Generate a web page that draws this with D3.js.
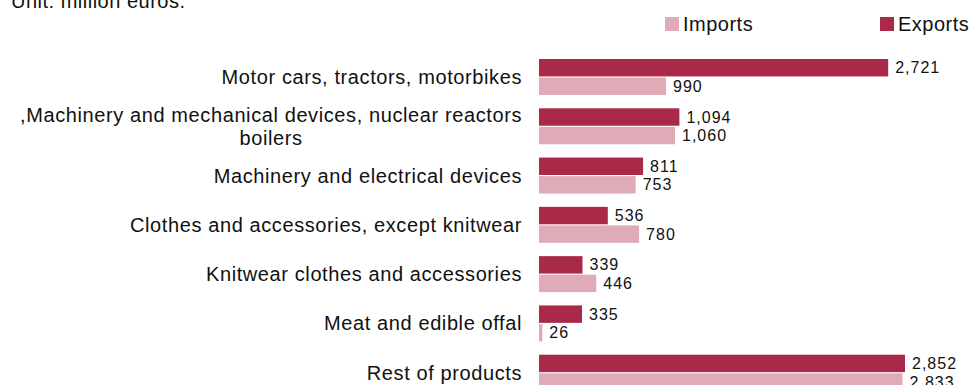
<!DOCTYPE html>
<html>
<head>
<meta charset="utf-8">
<script src="https://cdn.jsdelivr.net/npm/d3@7"></script>
<style>
  html, body { margin: 0; padding: 0; background: #fff; }
  svg { display: block; font-family: "Liberation Sans", Arial, sans-serif; }
</style>
</head>
<body>
<svg id="chart" width="971" height="385"></svg>
<script>
// Trade by product group, million euros
const categories = [
  ["Motor cars, tractors, motorbikes"],
  [",Machinery and mechanical devices, nuclear reactors", "boilers"],
  ["Machinery and electrical devices"],
  ["Clothes and accessories, except knitwear"],
  ["Knitwear clothes and accessories"],
  ["Meat and edible offal"],
  ["Rest of products"]
];
const exportsValues = [2721, 1094, 811, 536, 339, 335, 2852];
const importsValues = [990, 1060, 753, 780, 446, 26, 2833];
const seriesNames = ["Imports", "Exports"];
const colors = { Imports: "#dfabb6", Exports: "#a92a48" };

const svg = d3.select("#chart");
const fmt = d3.format(",");

const x = d3.scaleLinear().domain([0, 2852]).range([539, 905]);
const y = d3.scaleBand().domain(d3.range(categories.length))
  .range([52.35, 397.35]).paddingInner(0.27).paddingOuter(0.135);
const sub = d3.scaleBand().domain(["Exports", "Imports"])
  .range([0, y.bandwidth()]).paddingInner(0.06);

// Unit note (partly above the top edge)
svg.append("text").attr("x", 11).attr("y", 8)
  .attr("font-size", 20).attr("letter-spacing", 0.5).attr("fill", "#111")
  .text("Unit: million euros.");

// Legend
const legendX = { Imports: 665, Exports: 880 };
seriesNames.forEach(name => {
  const g = svg.append("g").attr("transform", `translate(${legendX[name]},17)`);
  g.append("rect").attr("width", 14).attr("height", 14).attr("fill", colors[name]);
  g.append("text").attr("x", 18).attr("y", 7).attr("dy", "0.35em")
    .attr("font-size", 20).attr("letter-spacing", 0.5).attr("fill", "#111").text(name);
});

const rows = categories.map((c, i) => ({
  i, label: c, Exports: exportsValues[i], Imports: importsValues[i]
}));

const group = svg.selectAll("g.row").data(rows).join("g")
  .attr("class", "row")
  .attr("transform", d => `translate(0,${y(d.i)})`);

// Category labels: block right-aligned to the bars, lines centred within it
const labelRight = 522;
group.append("text")
  .attr("text-anchor", "middle")
  .attr("font-size", 20).attr("letter-spacing", 0.6).attr("fill", "#111")
  .each(function(d) {
    const n = d.label.length;
    const lh = 23;
    const t = d3.select(this);
    const spans = d.label.map((line, k) => t.append("tspan")
      .attr("y", y.bandwidth() / 2 + (k - (n - 1) / 2) * lh)
      .attr("dy", "0.35em").text(line));
    const w = d3.max(spans, s => s.node().getComputedTextLength());
    spans.forEach(s => s.attr("x", labelRight - w / 2));
  });

// Bars and value labels
["Exports", "Imports"].forEach(name => {
  group.append("rect")
    .attr("x", x(0))
    .attr("y", sub(name))
    .attr("width", d => x(d[name]) - x(0))
    .attr("height", sub.bandwidth())
    .attr("fill", colors[name]);
  group.append("text")
    .attr("x", d => x(d[name]) + 7)
    .attr("y", sub(name) + sub.bandwidth() / 2)
    .attr("dy", "0.35em")
    .attr("font-size", 16).attr("letter-spacing", 1).attr("fill", "#111")
    .text(d => fmt(d[name]));
});
</script>
</body>
</html>
